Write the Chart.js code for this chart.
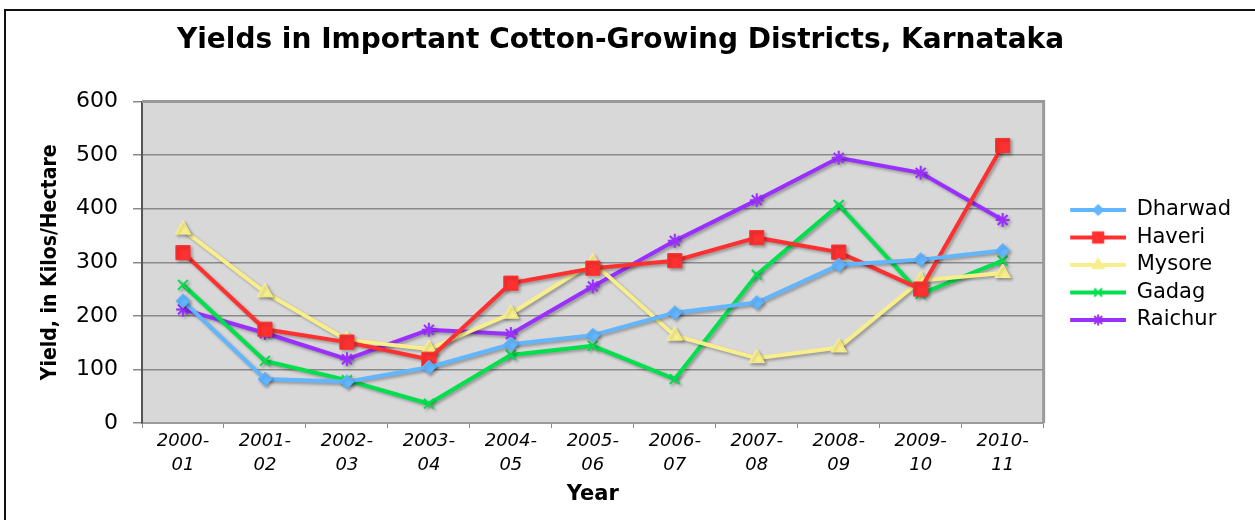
<!DOCTYPE html>
<html>
<head>
<meta charset="utf-8">
<script src="https://cdn.jsdelivr.net/npm/chart.js@4/dist/chart.umd.min.js"></script>
<style>
  body { margin: 0; background: #fff; }
  #wrap { position: relative; width: 1255px; height: 520px; overflow: hidden; }
  #frame { position: absolute; left: 4px; top: 9px; width: 1400px; height: 700px;
           border-left: 2px solid #111; border-top: 2px solid #111; }
  canvas { position: absolute; left: 0; top: 0; }
</style>
</head>
<body>
<div id="wrap">
  <div id="frame"></div>
  <canvas id="yieldChart" width="1255" height="520"></canvas>
</div>
<script>
const years = [['2000-', '01'], ['2001-', '02'], ['2002-', '03'], ['2003-', '04'], ['2004-', '05'],
  ['2005-', '06'], ['2006-', '07'], ['2007-', '08'], ['2008-', '09'], ['2009-', '10'], ['2010-', '11']];

const dharwad = [228, 82, 77, 104, 147, 164, 206, 225, 295, 305, 322];
const haveri = [318, 175, 151, 119, 261, 289, 303, 346, 319, 250, 518];
const mysore = [361, 244, 155, 138, 204, 300, 163, 121, 141, 266, 280];
const gadag = [258, 116, 80, 36, 127, 144, 82, 277, 407, 241, 303];
const raichur = [212, 168, 119, 174, 166, 255, 340, 416, 495, 467, 379];

const yTicks = [0, 100, 200, 300, 400, 500, 600];

const ctx = document.getElementById('yieldChart').getContext('2d');

// series look: colour + marker
const series = [
    { label: 'Dharwad', data: dharwad, color: '#62b5ff', style: 'rectRot', radius: 7, bw: 1 },
    { label: 'Haveri', data: haveri, color: '#ff3030', style: 'rect', radius: 10, bw: 1 },
    { label: 'Mysore', data: mysore, color: '#f8ef8c', style: 'triangle', radius: 9, bw: 1 },
    { label: 'Gadag', data: gadag, color: '#00e04c', style: 'crossRot', radius: 7, bw: 2 },
    { label: 'Raichur', data: raichur, color: '#9a30ff', style: 'star', radius: 7, bw: 2 }
];

// little "line + marker" image for the legend
function legendIcon(s) {
    const c = document.createElement('canvas');
    c.width = 76;
    c.height = 18;
    const g = c.getContext('2d');
    g.strokeStyle = s.color;
    g.fillStyle = s.color;
    g.lineWidth = 4;
    g.beginPath();
    g.moveTo(20, 9);
    g.lineTo(76, 9);
    g.stroke();
    g.lineWidth = s.bw;
    Chart.helpers.drawPoint(g, { pointStyle: s.style, radius: s.radius * 0.8, rotation: 0, borderWidth: s.bw }, 48, 9);
    return c;
}

// grey plot background and frame
const plotArea = {
    id: 'plotArea',
    beforeDraw(chart) {
        const a = chart.chartArea;
        const c = chart.ctx;
        c.save();
        c.fillStyle = '#d8d8d8';
        c.fillRect(a.left, a.top, a.right - a.left, a.bottom - a.top);
        c.restore();
    },
    beforeDatasetsDraw(chart) {
        const a = chart.chartArea;
        const c = chart.ctx;
        c.save();
        c.strokeStyle = '#9a9a9a';
        c.lineWidth = 3;
        c.beginPath();
        c.moveTo(a.left, a.top);
        c.lineTo(a.right, a.top);
        c.lineTo(a.right, a.bottom);
        c.stroke();
        c.restore();
        // soft drop shadow under the lines
        c.save();
        c.shadowColor = 'rgba(0, 0, 0, 0.3)';
        c.shadowOffsetX = 2;
        c.shadowOffsetY = 2;
        c.shadowBlur = 3;
    },
    afterDatasetsDraw(chart) {
        chart.ctx.restore();
    }
};

new Chart(ctx, {
    type: 'line',
    data: {
        labels: years,
        datasets: series.map(s => ({
            label: s.label,
            data: s.data,
            borderColor: s.color,
            backgroundColor: s.color,
            pointBorderColor: s.color,
            pointBackgroundColor: s.color,
            pointStyle: s.style,
            pointRadius: s.radius,
            pointBorderWidth: s.bw,
            borderWidth: 4,
            tension: 0,
            fill: false
        }))
    },
    options: {
        responsive: false,
        animation: false,
        layout: {
            padding: { top: 0, right: 14, bottom: 0, left: 0 }
        },
        plugins: {
            title: {
                display: true,
                text: 'Yields in Important Cotton-Growing Districts, Karnataka',
                color: '#000',
                font: { family: '"DejaVu Sans"', size: 28, weight: 'bold' },
                padding: { top: 24, bottom: 44 }
            },
            legend: {
                position: 'right',
                align: 'center',
                title: {
                    display: true,
                    text: ' ',
                    font: { size: 1, lineHeight: 1 },
                    padding: { top: 9, bottom: 0 }
                },
                labels: {
                    color: '#000',
                    font: { family: '"DejaVu Sans"', size: 21 },
                    usePointStyle: true,
                    pointStyleWidth: 76,
                    boxHeight: 18,
                    padding: 6.5,
                    generateLabels(chart) {
                        const items = Chart.defaults.plugins.legend.labels.generateLabels(chart);
                        return items.map((it, i) => Object.assign(it, { pointStyle: legendIcon(series[i]) }));
                    }
                }
            },
            tooltip: { enabled: false }
        },
        scales: {
            x: {
                offset: true,
                grid: {
                    offset: true,
                    drawOnChartArea: false,
                    color: '#8a8a8a',
                    tickLength: 5
                },
                border: { color: '#9a9a9a', width: 2 },
                ticks: {
                    color: '#000',
                    maxRotation: 0,
                    padding: 1,
                    font: { family: '"DejaVu Sans"', size: 18, style: 'italic', lineHeight: 1.35 }
                },
                title: {
                    display: true,
                    text: 'Year',
                    color: '#000',
                    font: { family: '"DejaVu Sans"', size: 21, weight: 'bold' },
                    padding: { top: 4, bottom: 13 }
                },
                afterFit(scale) {
                    scale.height = 97;
                }
            },
            y: {
                min: 0,
                max: 600,
                afterBuildTicks(scale) {
                    scale.ticks = yTicks.map(v => ({ value: v }));
                },
                grid: {
                    color: '#8a8a8a',
                    lineWidth: 1.5,
                    tickLength: 9
                },
                border: { color: '#555', width: 2 },
                ticks: {
                    color: '#000',
                    padding: 15,
                    font: { family: '"DejaVu Sans"', size: 22 }
                },
                title: {
                    display: true,
                    text: 'Yield, in Kilos/Hectare',
                    color: '#000',
                    font: { family: '"DejaVu Sans Condensed", "DejaVu Sans"', size: 21, weight: 'bold' },
                    padding: { top: 38, bottom: 0 }
                },
                afterFit(scale) {
                    scale.width = 142;
                }
            }
        }
    },
    plugins: [plotArea]
});
</script>
</body>
</html>
